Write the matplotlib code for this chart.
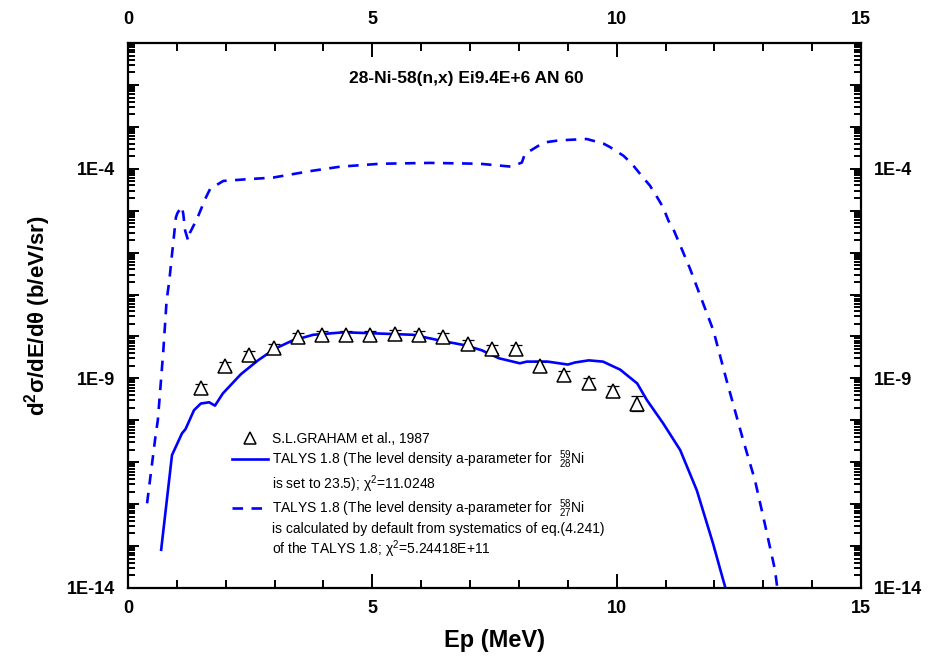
import matplotlib
matplotlib.use('Agg')
import matplotlib.pyplot as plt
from matplotlib.lines import Line2D
from matplotlib.ticker import FixedLocator, LogLocator, NullFormatter, FuncFormatter, MultipleLocator
import numpy as np

plt.rcParams['font.family'] = ['Liberation Sans', 'DejaVu Sans']
plt.rcParams['mathtext.fontset'] = 'custom'
plt.rcParams['mathtext.rm'] = 'Liberation Sans'
plt.rcParams['mathtext.it'] = 'Liberation Sans:italic'
plt.rcParams['mathtext.bf'] = 'Liberation Sans:bold'

# experimental points (S.L.GRAHAM 1987), log10 of cross section
exp_E = [1.49, 1.98, 2.48, 2.98, 3.47, 3.97, 4.47, 4.96, 5.46, 5.95,
         6.45, 6.95, 7.44, 7.94, 8.43, 8.93, 9.43, 9.92, 10.42]
exp_log = [-9.24, -8.70, -8.45, -8.28, -8.02, -7.96, -7.96, -7.96, -7.95, -7.96,
           -8.02, -8.17, -8.29, -8.31, -8.71, -8.93, -9.10, -9.31, -9.60]
exp_err = [0.3, 0.25, 0.25, 0.25, 0.25, 0.25, 0.25, 0.25, 0.25, 0.25,
           0.25, 0.25, 0.25, 0.25, 0.3, 0.25, 0.3, 0.35, 0.5]

# TALYS 1.8, a = 23.5 (solid)
tal1_E = [0.675, 0.90, 1.105, 1.177, 1.35, 1.49, 1.66, 1.78, 1.94, 2.31,
          2.66, 3.01, 3.36, 3.79, 4.42, 5.14, 5.83, 6.40, 6.90, 7.24,
          7.59, 8.02, 8.16, 8.59, 9.00, 9.15, 9.43, 9.72, 10.07, 10.42,
          10.62, 10.95, 11.30, 11.64, 11.97, 12.18, 12.30]
tal1_log = [-13.12, -10.83, -10.31, -10.21, -9.76, -9.60, -9.57, -9.65, -9.36, -8.90,
            -8.57, -8.29, -8.10, -7.96, -7.90, -7.93, -7.96, -8.10, -8.21, -8.33,
            -8.52, -8.64, -8.60, -8.60, -8.67, -8.62, -8.57, -8.60, -8.79, -9.12,
            -9.52, -10.07, -10.71, -11.67, -12.93, -13.81, -14.30]

# TALYS 1.8, default systematics (dashed)
tal2_E = [0.39, 0.57, 0.61, 0.72, 0.79, 0.845, 0.894, 0.927, 0.98, 1.01,
          1.10, 1.13, 1.17, 1.23, 1.27, 1.41, 1.58, 1.68, 1.95, 2.43,
          2.97, 3.31, 3.76, 4.34, 5.16, 6.18, 7.20, 7.85, 8.06, 8.12,
          8.40, 8.53, 8.84, 9.39, 9.73, 9.86, 10.14, 10.31, 10.54, 10.68,
          10.85, 10.95, 11.06, 11.16, 11.50, 11.98, 12.25, 12.59, 12.83, 13.03,
          13.24, 13.32]
tal2_log = [-11.98, -10.31, -10.00, -8.38, -7.14, -6.67, -6.11, -5.75, -5.16, -5.06,
            -4.90, -5.07, -5.48, -5.71, -5.52, -5.20, -4.72, -4.48, -4.29, -4.25,
            -4.21, -4.14, -4.05, -3.95, -3.88, -3.86, -3.88, -3.95, -3.85, -3.65,
            -3.45, -3.37, -3.32, -3.29, -3.40, -3.48, -3.69, -3.88, -4.21, -4.40,
            -4.72, -4.92, -5.24, -5.44, -6.38, -7.86, -9.05, -10.48, -11.43, -12.46,
            -13.57, -14.30]

x_ticks = [0, 5, 10, 15]
labelled_decades = [-14, -9, -4]

exp_y = 10.0 ** np.array(exp_log)
err = np.array(exp_err)
yerr = [exp_y * (1 - 1 / (1 + err)), exp_y * err]

fig = plt.figure(figsize=(9.29, 6.71), dpi=100)
ax = fig.add_axes([0.1378, 0.1237, 0.789, 0.8122])

ax.set_yscale('log')
ax.set_xlim(0, 15)
ax.set_ylim(1e-14, 1e-1)

ax.plot(tal1_E, 10.0 ** np.array(tal1_log), color='#0000ff', lw=1.9, solid_capstyle='butt')
ax.plot(tal2_E, 10.0 ** np.array(tal2_log), color='#0000ff', lw=1.9, dashes=(4, 3.2))
ax.errorbar(exp_E, exp_y, yerr=yerr, fmt='none', ecolor='black', elinewidth=0.9,
            capsize=4, capthick=0.9)
ax.plot(exp_E, exp_y, linestyle='none', marker='^', markersize=10,
        markerfacecolor='white', markeredgecolor='black', markeredgewidth=1.1)

# ticks
ax.xaxis.set_major_locator(FixedLocator(x_ticks))
ax.xaxis.set_minor_locator(MultipleLocator(1))
ax.yaxis.set_major_locator(FixedLocator([10.0 ** e for e in range(-14, 0)]))
ax.yaxis.set_minor_locator(LogLocator(base=10, subs=np.arange(2, 10), numticks=30))
ax.yaxis.set_minor_formatter(NullFormatter())


def ylab(v, pos):
    e = int(round(np.log10(v)))
    return f'1E{e}' if e in labelled_decades else ''


ax.yaxis.set_major_formatter(FuncFormatter(ylab))
ax.tick_params(axis='both', which='both', direction='in', top=True, right=True,
               labelright=True, width=1.4, labelsize=13)
ax.tick_params(axis='x', which='major', length=10, pad=9)
ax.tick_params(axis='x', which='minor', length=6)
ax.tick_params(axis='y', which='major', length=8, pad=9)
ax.tick_params(axis='y', which='minor', length=5)
for lab in ax.get_xticklabels() + ax.get_yticklabels():
    lab.set_fontweight('bold')

top = ax.secondary_xaxis('top')
top.xaxis.set_major_locator(FixedLocator(x_ticks))
top.xaxis.set_minor_locator(FixedLocator([]))
top.tick_params(axis='x', which='both', direction='in', length=0, pad=11, labelsize=13)
for lab in top.get_xticklabels():
    lab.set_fontweight('bold')
top.spines['top'].set_visible(False)

for s in ax.spines.values():
    s.set_linewidth(1.6)

ax.set_xlabel('Ep (MeV)', fontsize=17, fontweight='bold', labelpad=8)
ax.set_ylabel(r'd$^\mathbf{2}$σ/dE/dθ (b/eV/sr)', fontsize=16, fontweight='bold', labelpad=10)

ax.text(0.461, 0.935, '28-Ni-58(n,x) Ei9.4E+6 AN 60', transform=ax.transAxes,
        ha='center', va='center', fontsize=12.5, fontweight='bold')

# legend
blank = Line2D([], [], color='none')
h_exp = Line2D([], [], linestyle='none', marker='^', markersize=8,
               markerfacecolor='white', markeredgecolor='black', markeredgewidth=1.1)
h_sol = Line2D([], [], color='#0000ff', lw=1.9)
h_das = Line2D([], [], color='#0000ff', lw=1.9, dashes=(4, 3.2))
handles = [h_exp, h_sol, blank, h_das, blank, blank]
labels = ['S.L.GRAHAM et al., 1987',
          r'TALYS 1.8 (The level density a-parameter for  $^{59}_{28}$Ni',
          r'is set to 23.5); χ$^{2}$=11.0248',
          r'TALYS 1.8 (The level density a-parameter for  $^{58}_{27}$Ni',
          'is calculated by default from systematics of eq.(4.241)',
          r'of the TALYS 1.8; χ$^{2}$=5.24418E+11']
ax.legend(handles, labels, loc='upper left', bbox_to_anchor=(0.142, 0.286),
          frameon=False, fontsize=10, handlelength=2.6, handletextpad=0.3,
          borderpad=0, borderaxespad=0, labelspacing=0.16)

fig.savefig('out.png', dpi=100)
